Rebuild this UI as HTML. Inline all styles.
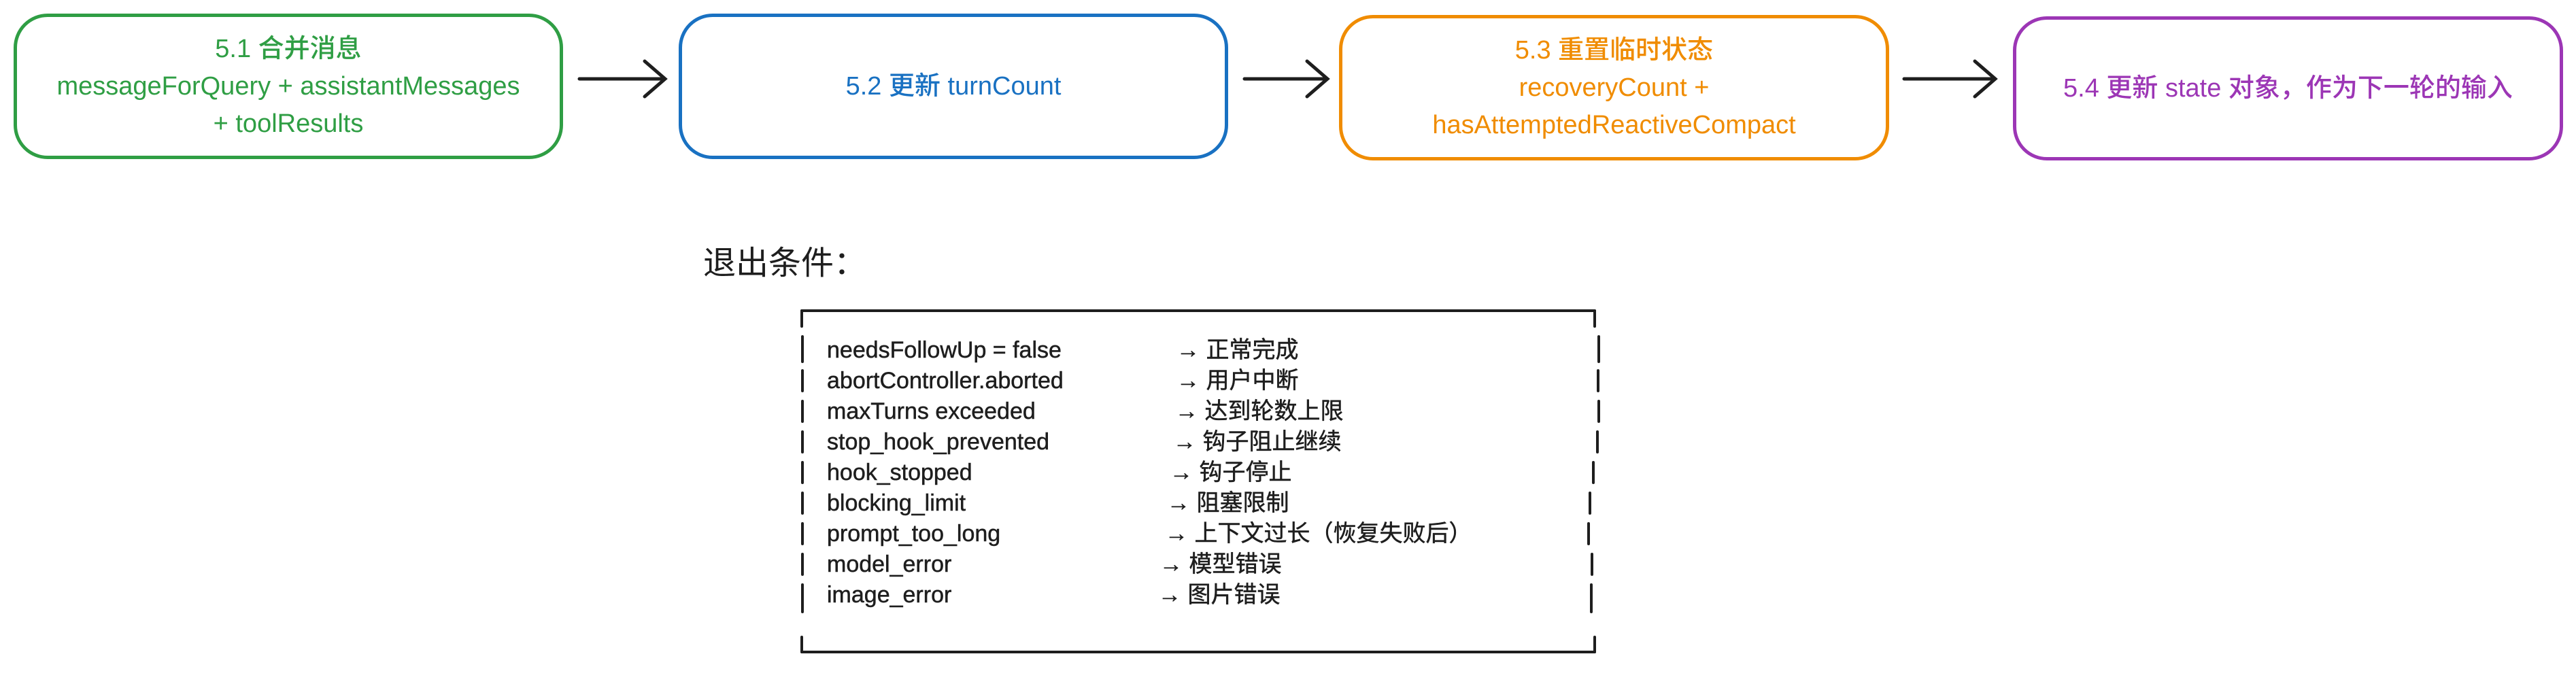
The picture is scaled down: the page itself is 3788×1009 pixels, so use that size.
<!DOCTYPE html>
<html><head><meta charset="utf-8"><style>
html,body{margin:0;padding:0;background:#fff;}
body{width:3788px;height:1009px;overflow:hidden;position:relative;font-family:"Liberation Sans","Noto Sans CJK SC",sans-serif;}
.box{position:absolute;box-sizing:border-box;border:5px solid;border-radius:50px;display:flex;flex-direction:column;align-items:center;justify-content:center;text-align:center;font-size:38px;line-height:55px;font-weight:500;}
.box div{height:55px;}
.row{position:absolute;font-size:34px;line-height:40px;height:40px;color:#1e1e1e;white-space:nowrap;-webkit-text-stroke:0.5px #1e1e1e;}
</style></head><body>
<div class="box" style="left:20px;top:20px;width:808px;height:214px;border-color:#2f9e44;color:#2f9e44;">
<div>5.1 合并消息</div><div>messageForQuery + assistantMessages</div><div>+ toolResults</div></div>
<div class="box" style="left:998px;top:20px;width:808px;height:214px;border-color:#1971c2;color:#1971c2;">
<div>5.2 更新 turnCount</div></div>
<div class="box" style="left:1969px;top:22px;width:809px;height:214px;border-color:#f08c00;color:#f08c00;">
<div>5.3 重置临时状态</div><div>recoveryCount +</div><div>hasAttemptedReactiveCompact</div></div>
<div class="box" style="left:2960px;top:24px;width:809px;height:212px;border-color:#9c36b5;color:#9c36b5;">
<div>5.4 更新 state 对象，作为下一轮的输入</div></div>
<svg width="3788" height="1009" style="position:absolute;left:0;top:0" fill="none" stroke="#1e1e1e" stroke-width="5" stroke-linecap="round">
<path d="M852 116 L978 116 M948 90 L978 116 L948 142"/>
<path d="M1830 116 L1952 116 M1922 90 L1952 116 L1922 142"/>
<path d="M2800 116 L2934 116 M2904 90 L2934 116 L2904 142"/>
<g stroke-width="4">
<path d="M1179 457 L2345 457 M1179 959 L2345 959"/>
<path d="M1179 457 L1179 480 M2345 457 L2345 480 M1179 937 L1179 959 M2345 937 L2345 959"/>
<path d="M1180 495 L1180 532 M1180 545 L1180 575 M1180 590 L1180 620 M1180 635 L1180 665 M1180 680 L1180 710 M1180 725 L1180 755 M1180 770 L1180 800 M1180 815 L1180 845 M1180 860 L1180 900"/>
<path d="M2351 495 L2351 532 M2350 545 L2350 575 M2351 590 L2351 620 M2349 635 L2349 665 M2343 680 L2343 710 M2338 725 L2338 755 M2336 770 L2336 800 M2341 815 L2341 845 M2340 860 L2340 900"/>
</g>
</svg>
<div style="position:absolute;left:1034px;top:358px;font-size:48px;line-height:60px;color:#1e1e1e;">退出条件：</div>
<div class="row" style="left:1216px;top:495px;">needsFollowUp = false</div><div class="row" style="left:1730px;top:495px;">→ 正常完成</div>
<div class="row" style="left:1216px;top:540px;">abortController.aborted</div><div class="row" style="left:1730px;top:540px;">→ 用户中断</div>
<div class="row" style="left:1216px;top:585px;">maxTurns exceeded</div><div class="row" style="left:1728px;top:585px;">→ 达到轮数上限</div>
<div class="row" style="left:1216px;top:630px;">stop_hook_prevented</div><div class="row" style="left:1725px;top:630px;">→ 钩子阻止继续</div>
<div class="row" style="left:1216px;top:675px;">hook_stopped</div><div class="row" style="left:1720px;top:675px;">→ 钩子停止</div>
<div class="row" style="left:1216px;top:720px;">blocking_limit</div><div class="row" style="left:1716px;top:720px;">→ 阻塞限制</div>
<div class="row" style="left:1216px;top:765px;">prompt_too_long</div><div class="row" style="left:1713px;top:765px;">→ 上下文过长（恢复失败后）</div>
<div class="row" style="left:1216px;top:810px;">model_error</div><div class="row" style="left:1705px;top:810px;">→ 模型错误</div>
<div class="row" style="left:1216px;top:855px;">image_error</div><div class="row" style="left:1703px;top:855px;">→ 图片错误</div>
</body></html>
